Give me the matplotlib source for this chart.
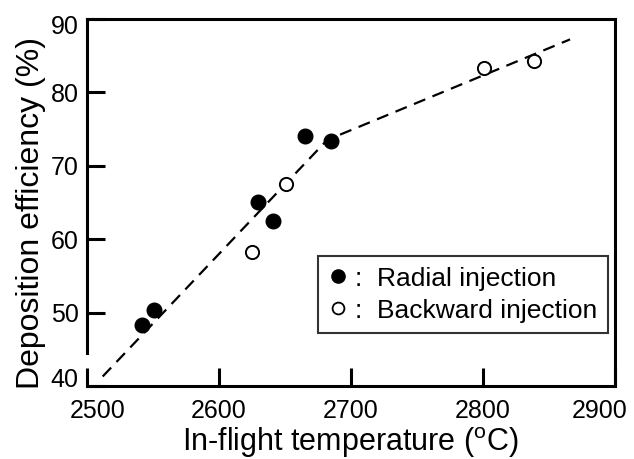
import matplotlib
matplotlib.use("Agg")
import matplotlib.pyplot as plt
from matplotlib.lines import Line2D
from matplotlib.transforms import ScaledTranslation

plt.rcParams['font.family'] = ['Liberation Sans', 'DejaVu Sans']
plt.rcParams['mathtext.fontset'] = 'custom'
plt.rcParams['mathtext.rm'] = 'Liberation Sans'

# Data
radial_T = [2542, 2551, 2630, 2641, 2665, 2685]
radial_DE = [48.3, 50.4, 65.1, 62.5, 74.0, 73.4]
backward_T = [2625, 2651, 2801, 2839]
backward_DE = [58.2, 67.5, 83.3, 84.2]
fit_T = [2512, 2682, 2866]
fit_DE = [41.3, 73.5, 87.2]

xticks = [2500, 2600, 2700, 2800, 2900]
yticks = [40, 50, 60, 70, 80, 90]

fig = plt.figure(figsize=(6.34, 4.59), dpi=100)
ax = fig.add_axes([0.137, 0.159, 0.833, 0.800])

ax.plot(fit_T, fit_DE, color='black', lw=1.6, ls=(0, (5.5, 3.5)), zorder=2)
ax.plot(radial_T, radial_DE, 'o', color='black', ms=10.5, zorder=3, ls='none')
ax.plot(backward_T, backward_DE, 'o', mfc='white', mec='black', mew=1.4, ms=9.5,
        zorder=3, ls='none')

ax.set_xlim(2500, 2900)
ax.set_ylim(40, 90)
ax.set_xticks(xticks)
ax.set_yticks(yticks)
ax.tick_params(axis='both', direction='in', length=13, width=2.2, labelsize=18)
ax.tick_params(axis='x', pad=9)
ax.tick_params(axis='y', pad=6)
for s in ax.spines.values():
    s.set_linewidth(2.2)
ax.spines['left'].set_bounds(44.5, 90)

# nudge end tick labels inward like the reference
xl = ax.get_xticklabels()
xl[0].set_transform(xl[0].get_transform() + ScaledTranslation(11/100, 0, fig.dpi_scale_trans))
xl[-1].set_transform(xl[-1].get_transform() + ScaledTranslation(-15/100, 0, fig.dpi_scale_trans))
yl = ax.get_yticklabels()
yl[0].set_transform(yl[0].get_transform() + ScaledTranslation(0, 9/100, fig.dpi_scale_trans))
yl[-1].set_transform(yl[-1].get_transform() + ScaledTranslation(0, -6/100, fig.dpi_scale_trans))

ax.set_xlabel('In-flight temperature ($^{\\mathrm{o}}$C)', fontsize=22, labelpad=2)
ax.set_ylabel('Deposition efficiency (%)', fontsize=23, labelpad=3)
ax.yaxis.label.set_y(0.47)

handles = [
    Line2D([], [], marker='o', ls='none', color='black', ms=9.5),
    Line2D([], [], marker='o', ls='none', mfc='white', mec='black', mew=1.3, ms=8.5),
]
labels = [':  Radial injection', ':  Backward injection']
leg = ax.legend(handles, labels, loc='lower right', bbox_to_anchor=(0.987, 0.144),
                borderaxespad=0, fontsize=19, frameon=True, fancybox=False,
                handlelength=0.7, handletextpad=0.3, borderpad=0.4,
                labelspacing=0.3)
leg.get_frame().set_edgecolor('black')
leg.get_frame().set_linewidth(1.5)

fig.savefig('out.png', dpi=100)
